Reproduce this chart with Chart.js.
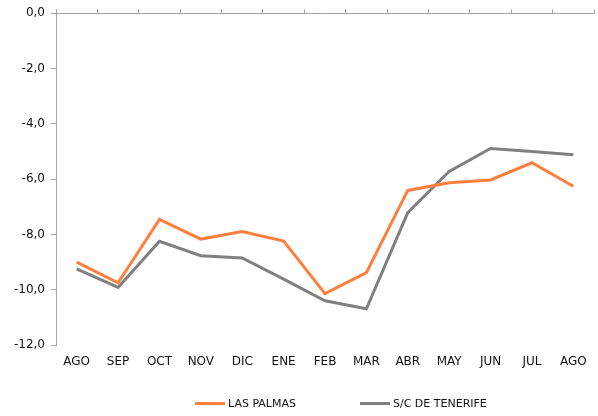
<!DOCTYPE html>
<html>
<head>
<meta charset="utf-8">
<script src="https://cdn.jsdelivr.net/npm/chart.js@4/dist/chart.umd.min.js"></script>
<style>
    body { margin: 0; background: #fff; }
    #wrap { position: relative; width: 598px; height: 416px; }
    #chart { position: absolute; left: 0; top: 0; }
    #legend { position: absolute; top: 397px; left: 0; width: 598px; height: 16px;
        font-family: 'DejaVu Sans', Verdana, sans-serif; font-size: 11px; color: #111; }
    .item { position: absolute; top: 0; line-height: 14px; white-space: nowrap; }
    .swatch { display: inline-block; width: 30px; height: 3px; vertical-align: middle; margin-right: 3px; position: relative; top: -1px; }
</style>
</head>
<body>
<div id="wrap">
    <canvas id="chart" width="598" height="416"></canvas>
    <div id="legend">
        <div class="item" style="left:195px"><span class="swatch" style="background:#ff7f3f"></span>LAS PALMAS</div>
        <div class="item" style="left:360px"><span class="swatch" style="background:#808080"></span>S/C DE TENERIFE</div>
    </div>
</div>
<script>
const months = ['AGO', 'SEP', 'OCT', 'NOV', 'DIC', 'ENE', 'FEB', 'MAR', 'ABR', 'MAY', 'JUN', 'JUL', 'AGO']
const lasPalmas = [-9.0, -9.75, -7.46, -8.17, -7.9, -8.24, -10.14, -9.38, -6.41, -6.13, -6.03, -5.41, -6.26]
const tenerife = [-9.25, -9.92, -8.25, -8.77, -8.85, -9.62, -10.4, -10.69, -7.21, -5.72, -4.89, -5.0, -5.12]

const axisColor = '#a6a6a6'

Chart.defaults.color = '#111'
Chart.defaults.font = { family: "'DejaVu Sans', Verdana, sans-serif", size: 12 }

const config = {
    type: 'line',
    data: {
        labels: months,
        datasets: [{
            label: 'LAS PALMAS',
            data: lasPalmas,
            borderColor: '#ff7f3f',
            backgroundColor: '#ff7f3f',
            borderWidth: 3,
            pointRadius: 0,
            tension: 0,
        }, {
            label: 'S/C DE TENERIFE',
            data: tenerife,
            borderColor: '#808080',
            backgroundColor: '#808080',
            borderWidth: 3,
            pointRadius: 0,
            tension: 0,
        }]
    },
    options: {
        responsive: false,
        animation: false,
        layout: { padding: { top: 0, right: 4, left: 0, bottom: 0 } },
        plugins: {
            legend: { display: false },
            tooltip: { enabled: false }
        },
        scales: {
            x: {
                position: 'bottom',
                offset: true,
                grid: { display: false, drawTicks: false },
                border: { display: false },
                ticks: { padding: 10, maxRotation: 0, autoSkip: false },
                afterFit: function(scale) { scale.height = 71 }
            },
            x2: {
                position: 'top',
                offset: true,
                labels: months,
                grid: { drawOnChartArea: false, offset: true, tickLength: 4, color: axisColor },
                border: { display: true, color: axisColor, width: 1 },
                ticks: { display: false },
                afterFit: function(scale) { scale.height = 12 }
            },
            y: {
                min: -12,
                max: 0,
                grid: { drawOnChartArea: false, tickLength: 5, color: axisColor },
                border: { display: true, color: axisColor, width: 1 },
                ticks: {
                    stepSize: 2,
                    padding: 6,
                    callback: function(v) { return v.toFixed(1).replace('.', ',') }
                },
                afterFit: function(scale) { scale.width = 56 }
            }
        }
    }
}

const chart = new Chart(document.getElementById('chart'), config)
</script>
</body>
</html>
